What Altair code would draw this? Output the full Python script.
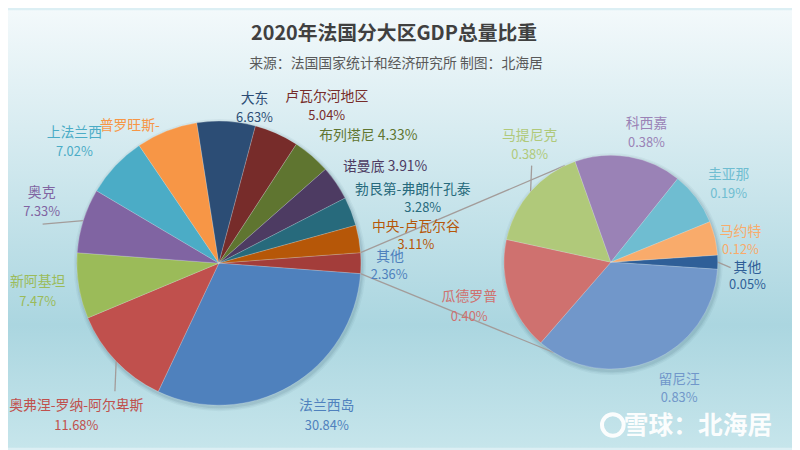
import math
import altair as alt
import pandas as pd

# ---------------- data ----------------
main_names = ["其他", "法兰西岛", "奥弗涅-罗纳-阿尔卑斯", "新阿基坦", "奥克", "上法兰西",
              "普罗旺斯-", "大东", "卢瓦尔河地区", "布列塔尼", "诺曼底",
              "勃艮第-弗朗什孔泰", "中央-卢瓦尔谷"]
main_values = [2.36, 30.84, 11.68, 7.47, 7.33, 7.02, 7.00, 6.63, 5.04, 4.33, 3.91, 3.28, 3.11]
main_pct_text = ["2.36%", "30.84%", "11.68%", "7.47%", "7.33%", "7.02%", "",
                 "6.63%", "5.04%", "4.33%", "3.91%", "3.28%", "3.11%"]

sub_names = ["其他", "留尼汪", "瓜德罗普", "马提尼克", "科西嘉", "圭亚那", "马约特"]
sub_values = [0.05, 0.83, 0.40, 0.38, 0.38, 0.19, 0.12]
sub_pct_text = ["0.05%", "0.83%", "0.40%", "0.38%", "0.38%", "0.19%", "0.12%"]

# ---------------- style / layout ----------------
main_colors = ["#A33D3A", "#4F81BD", "#C0504D", "#9BBB59", "#8064A2", "#4BACC6", "#F79646",
               "#2C4D75", "#772C2A", "#5F7530", "#4D3B62", "#276A7C", "#B65708"]
main_label_colors = ["#4F81BD"] + main_colors[1:]
sub_colors = ["#2F5F98", "#7197CA", "#CF716F", "#B0C97A", "#9A82B6", "#6FBDD1", "#F9AB6B"]
sub_label_colors = sub_colors

FONT = "Noto Sans CJK SC"
OFF = 8                      # page margin
W, H = 792, 442              # canvas size
MAIN_C, MAIN_R = (221, 263.5), 143.5
SUB_C, SUB_R = (617, 262.5), 108

# label anchor points (reference picture pixels): name line, percent line (None = no percent)
main_label_pos = {
    "其他": ((394, 257), (393, 276)),
    "法兰西岛": ((330, 408), (330, 428)),
    "奥弗涅-罗纳-阿尔卑斯": ((77, 408), (77, 428)),
    "新阿基坦": ((38, 283), (38, 303)),
    "奥克": ((42, 193), (42, 212)),
    "上法兰西": ((75, 132), (75, 151)),
    "普罗旺斯-": ((131, 125), None),
    "大东": ((257, 98), (257, 117)),
    "卢瓦尔河地区": ((330, 96), (330, 115)),
    "布列塔尼": ((372, 135), "inline"),
    "诺曼底": ((389, 166), "inline"),
    "勃艮第-弗朗什孔泰": ((417, 190), (427, 208)),
    "中央-卢瓦尔谷": ((420, 227), (420, 245)),
}
sub_label_pos = {
    "其他": ((755, 268), (755, 286)),
    "留尼汪": ((686, 382), (686, 400)),
    "瓜德罗普": ((474, 298), (474, 318)),
    "马提尼克": ((535, 135), (535, 154)),
    "科西嘉": ((653, 123), (653, 142)),
    "圭亚那": ((736, 174), (736, 194)),
    "马约特": ((748, 232), (748, 250)),
}
# leader lines: label-side end point -> mid of slice edge
main_leaders = {"奥克": (43, 224), "奥弗涅-罗纳-阿尔卑斯": (116, 393)}
sub_leaders = {"马提尼克": (537, 165), "其他": (738, 268)}


def start_angle(values):
    """Start so that the first slice ('其他') is centred at 3 o'clock (Vega: 0 = 12 o'clock)."""
    return 90 - values[0] / sum(values) * 360 / 2


def mid_angles(values):
    total = sum(values)
    a = start_angle(values)
    mids = []
    for v in values:
        span = v / total * 360
        mids.append(a + span / 2)
        a += span
    return mids


def edge(center, r, deg):
    t = math.radians(deg)
    return center[0] + r * math.sin(t), center[1] - r * math.cos(t)


def px(v):
    return v - OFF


xs = alt.Scale(domain=[0, W], nice=False, zero=False)
ys = alt.Scale(domain=[0, H], nice=False, zero=False, reverse=True)

# ---------------- background ----------------
bg = alt.Chart(pd.DataFrame({"a": [0]})).mark_rect(
    fill=alt.Gradient(
        gradient="linear", x1=0, x2=0, y1=0, y2=1,
        stops=[alt.GradientStop(offset=0, color="#F3F9FB"),
               alt.GradientStop(offset=0.72, color="#ABD6E0"),
               alt.GradientStop(offset=1, color="#C6E5EB")],
    )
).encode(x=alt.value(0), x2=alt.value(W), y=alt.value(0), y2=alt.value(H))


# ---------------- pies ----------------
def pie_layers(names, values, colors, center, r):
    df = pd.DataFrame({"name": names, "value": values, "color": colors,
                       "idx": list(range(len(names)))})
    a0 = math.radians(start_angle(values))
    shadows = []
    for k, op in [(4, 0.05), (2.5, 0.07), (1.2, 0.09)]:
        shadows.append(
            alt.Chart(pd.DataFrame({"a": [0]})).mark_arc(
                radius=r + k, theta=0, theta2=2 * math.pi, color="#2F4F5F", opacity=op
            ).encode(x=alt.value(px(center[0]) + 1), y=alt.value(px(center[1]) + 2))
        )
    arc = alt.Chart(df).mark_arc(radius=r, stroke="#FFFFFF", strokeWidth=0.4,
                                 strokeOpacity=0.5).encode(
        theta=alt.Theta("value:Q", stack=True,
                        scale=alt.Scale(range=[a0, a0 + 2 * math.pi])),
        order=alt.Order("idx:Q", sort="ascending"),
        color=alt.Color("color:N", scale=None, legend=None),
        x=alt.value(px(center[0])),
        y=alt.value(px(center[1])),
    )
    return shadows, arc


main_sh, main_arc = pie_layers(main_names, main_values, main_colors, MAIN_C, MAIN_R)
sub_sh, sub_arc = pie_layers(sub_names, sub_values, sub_colors, SUB_C, SUB_R)

# ---------------- connector & leader lines ----------------
rows = []
m_start = start_angle(main_values)
m_end = m_start + main_values[0] / sum(main_values) * 360
p1 = edge(MAIN_C, MAIN_R, m_start)
p2 = edge(MAIN_C, MAIN_R, m_end)
q1 = edge(SUB_C, SUB_R, 334.5)
q2 = edge(SUB_C, SUB_R, 212.3)
rows.append((p1, q1))
rows.append((p2, q2))
mm = mid_angles(main_values)
for nm, pt in main_leaders.items():
    rows.append((pt, edge(MAIN_C, MAIN_R, mm[main_names.index(nm)])))
sm = mid_angles(sub_values)
for nm, pt in sub_leaders.items():
    rows.append((pt, edge(SUB_C, SUB_R, sm[sub_names.index(nm)])))
lines_df = pd.DataFrame([{"x": px(a[0]), "y": px(a[1]), "x2": px(b[0]), "y2": px(b[1])}
                         for a, b in rows])
lines = alt.Chart(lines_df).mark_rule(color="#A39C9A", strokeWidth=1.3).encode(
    x=alt.X("x:Q", scale=xs, axis=None), y=alt.Y("y:Q", scale=ys, axis=None),
    x2="x2:Q", y2="y2:Q")

# ---------------- labels ----------------
lab = []


def add_labels(names, pcts, colors, pos):
    for nm, pc, col in zip(names, pcts, colors):
        name_pt, pct_pt = pos[nm]
        if pct_pt == "inline":
            lab.append({"x": px(name_pt[0]), "y": px(name_pt[1]),
                        "t": f"{nm} {pc}", "c": col, "fs": 14})
        else:
            lab.append({"x": px(name_pt[0]), "y": px(name_pt[1]), "t": nm, "c": col, "fs": 14})
            if pct_pt is not None and pc:
                lab.append({"x": px(pct_pt[0]), "y": px(pct_pt[1]), "t": pc, "c": col, "fs": 13})


add_labels(main_names, main_pct_text, main_label_colors, main_label_pos)
add_labels(sub_names, sub_pct_text, sub_label_colors, sub_label_pos)
lab_df = pd.DataFrame(lab)
labels = alt.Chart(lab_df).mark_text(font=FONT, align="center", baseline="middle").encode(
    x=alt.X("x:Q", scale=xs, axis=None), y=alt.Y("y:Q", scale=ys, axis=None),
    text="t:N", color=alt.Color("c:N", scale=None, legend=None),
    size=alt.Size("fs:Q", scale=None, legend=None))

# ---------------- titles ----------------
title = alt.Chart(pd.DataFrame({"t": ["2020年法国分大区GDP总量比重"]})).mark_text(
    font=FONT, fontSize=20, fontWeight="bold", color="#404040", align="center", baseline="middle"
).encode(text="t:N", x=alt.value(px(398)), y=alt.value(px(32)))
subtitle = alt.Chart(pd.DataFrame({"t": ["来源：法国国家统计和经济研究所 制图：北海居"]})).mark_text(
    font=FONT, fontSize=14, color="#595959", align="center", baseline="middle"
).encode(text="t:N", x=alt.value(px(400)), y=alt.value(px(62)))

# ---------------- watermark ----------------
wm = alt.Chart(pd.DataFrame({"t": ["雪球：北海居"]})).mark_text(
    font=FONT, fontSize=25, fontWeight="bold", color="#FFFFFF", opacity=0.95,
    align="center", baseline="middle"
).encode(text="t:N", x=alt.value(px(705)), y=alt.value(px(428)))
logo = alt.Chart(pd.DataFrame({"a": [0]})).mark_point(
    shape="circle", size=480, strokeWidth=4, color="#FFFFFF", opacity=0.95, filled=False
).encode(x=alt.value(px(619)), y=alt.value(px(427)))

chart = alt.layer(
    bg, *main_sh, *sub_sh, lines, main_arc, sub_arc, labels, title, subtitle, wm, logo
).resolve_scale(theta="independent").properties(
    width=W, height=H, padding=0, autosize=alt.AutoSizeParams(type="none"),
    background="#DCEFF4"
).configure_view(strokeWidth=0)

chart.save("out.html", embed_options={"renderer": "svg", "actions": False})
